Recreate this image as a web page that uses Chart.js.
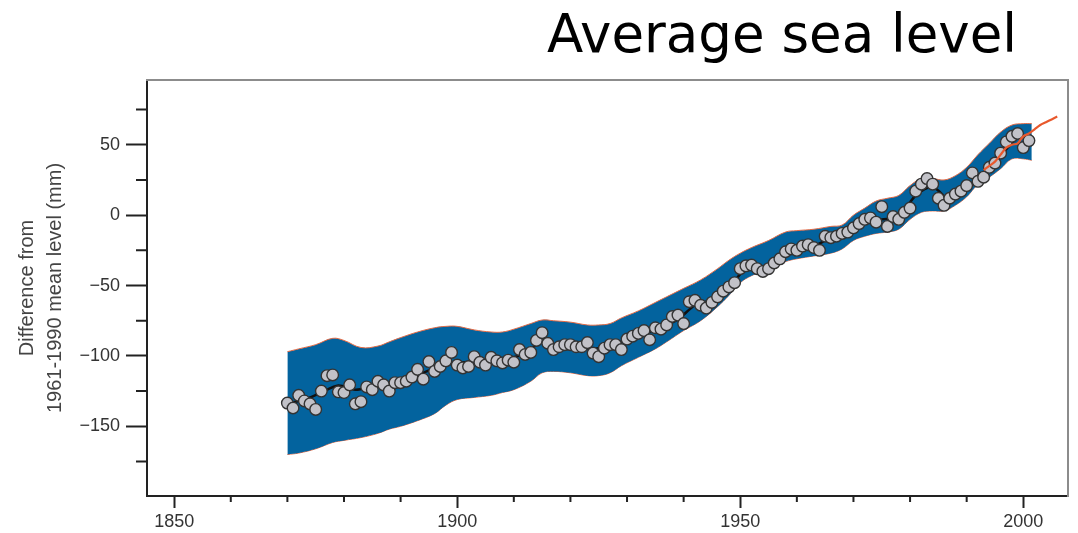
<!DOCTYPE html>
<html>
<head>
<meta charset="utf-8">
<title>Average sea level</title>
<script src="https://cdn.jsdelivr.net/npm/chart.js@4.4.0/dist/chart.umd.min.js"></script>
<style>
  html, body { margin: 0; padding: 0; background: #fff; }
</style>
</head>
<body>
<canvas id="chart" width="1078" height="533"></canvas>
<script>
// annual tide gauge values (mm, relative to 1961-1990 mean)
const years = [
  1870, 1871, 1872, 1873, 1874, 1875, 1876, 1877, 1878, 1879,
  1880, 1881, 1882, 1883, 1884, 1885, 1886, 1887, 1888, 1889,
  1890, 1891, 1892, 1893, 1894, 1895, 1896, 1897, 1898, 1899,
  1900, 1901, 1902, 1903, 1904, 1905, 1906, 1907, 1908, 1909,
  1910, 1911, 1912, 1913, 1914, 1915, 1916, 1917, 1918, 1919,
  1920, 1921, 1922, 1923, 1924, 1925, 1926, 1927, 1928, 1929,
  1930, 1931, 1932, 1933, 1934, 1935, 1936, 1937, 1938, 1939,
  1940, 1941, 1942, 1943, 1944, 1945, 1946, 1947, 1948, 1949,
  1950, 1951, 1952, 1953, 1954, 1955, 1956, 1957, 1958, 1959,
  1960, 1961, 1962, 1963, 1964, 1965, 1966, 1967, 1968, 1969,
  1970, 1971, 1972, 1973, 1974, 1975, 1976, 1977, 1978, 1979,
  1980, 1981, 1982, 1983, 1984, 1985, 1986, 1987, 1988, 1989,
  1990, 1991, 1992, 1993, 1994, 1995, 1996, 1997, 1998, 1999,
  2000, 2001
];
const seaLevel = [
  -133.5, -137, -128, -132, -134, -138, -125, -114, -113.5, -125.5,
  -126, -120.5, -134, -132.5, -122, -124, -118, -120.5, -125, -119,
  -119, -118, -115, -109.5, -116.5, -104, -111, -107.5, -103.5, -97.5,
  -106.5, -108.5, -107.5, -100.5, -104.5, -106.5, -101, -103.5, -105, -103,
  -104.5, -95.5, -99, -97.5, -89, -83.5, -91, -95.5, -93.5, -92,
  -92, -93.5, -93.5, -90.5, -98, -100.5, -94.5, -92, -92, -95.5,
  -88, -86, -84, -82, -88.5, -80, -81, -78, -72, -71,
  -77, -61.5, -60.5, -64, -66, -62, -58, -54, -51, -48,
  -38, -36, -35.5, -38, -40, -38, -34, -31, -26, -24,
  -25, -22, -21, -23, -25, -15, -16, -15, -13, -12,
  -9, -6, -3, -2, -5, 6, -8, -1, -3, 2,
  5, 17, 22, 26, 22, 12, 7, 12, 15, 17,
  21, 30, 24, 27, 34, 37, 44, 52, 56, 58,
  48, 53
];

// smoothed black curve
const trendYears = [1870, 1873, 1876, 1879, 1882, 1885, 1888, 1891, 1894, 1897, 1900, 1903, 1906, 1909, 1912, 1915, 1918, 1921, 1924, 1927, 1930, 1933, 1936, 1939, 1942, 1945, 1948, 1951, 1954, 1957, 1960, 1963, 1966, 1969, 1972, 1975, 1978, 1981, 1984, 1987, 1990, 1993, 1996, 1999, 2001];
const trendLevel = [-134, -131, -126, -121, -124, -122, -120, -116, -112, -107, -105, -104, -103, -102, -98, -90, -93, -93, -95, -93, -88, -84, -80, -74, -64, -60, -52, -38, -38, -31, -24, -22, -16, -12, -4, -3, -1, 14, 20, 11, 20, 28, 42, 55, 54];

// uncertainty band
const bandYears = [1870, 1872, 1875, 1878, 1880, 1883, 1886, 1888, 1890, 1893, 1896, 1898, 1900, 1903, 1906, 1908, 1910, 1913, 1915, 1917, 1920, 1923, 1925, 1927, 1929, 1932, 1935, 1937, 1940, 1943, 1946, 1948, 1950, 1952, 1955, 1958, 1960, 1963, 1966, 1968, 1970, 1972, 1974, 1976, 1978, 1980, 1982, 1984, 1986, 1988, 1990, 1992, 1994, 1996, 1998, 2000, 2001.5];
const bandUpper = [-97, -95, -92, -87.5, -89, -94, -93, -90, -87, -83, -80, -79, -79, -81.5, -83, -83, -81, -77, -74.5, -75, -76, -78, -78, -77, -73, -68, -62, -58, -52, -46, -38, -32, -27, -23, -18, -12, -11, -10, -8, -7, 0, 5, 10, 12, 14, 21, 26, 26, 25, 28, 34, 43, 51, 59, 64, 65, 65];
const bandLower = [-170, -169, -166, -161.5, -160, -158, -155, -152, -150, -146, -141, -135, -131, -129.5, -128, -126, -124, -118, -112, -111, -112, -114, -114, -112, -107, -101, -95, -90, -82, -75, -65, -57, -48, -43, -38, -33, -31, -29, -27, -24, -18, -15, -13, -12, -10, -3, 2, 3, 3, 7, 13, 22, 27, 33, 40, 40, 39];

// satellite altimetry (orange)
const satYears = [1993, 1994, 1995, 1996, 1997, 1998, 1999, 2000, 2001, 2002, 2003, 2004, 2005, 2006];
const satLevel = [32, 35, 38, 43, 48, 50, 51, 56, 58, 61, 64, 66, 68, 70];

const xMajorTicks = [1850, 1900, 1950, 2000];
const xMinorTicks = [1860, 1870, 1880, 1890, 1910, 1920, 1930, 1940, 1960, 1970, 1980, 1990];
const yMajorTicks = [50, 0, -50, -100, -150];
const yMinorTicks = [75, 25, -25, -75, -125, -175];

const chartTitle = 'Average sea level';
const yTitle = ['Difference from', '1961-1990 mean level (mm)'];

const pts = (xs, ys) => xs.map((x, i) => ({ x: x, y: ys[i] }));
const labelFont = { family: '"Liberation Sans", Arial, sans-serif', size: 18 };

// short ticks between the labelled ones + big heading
const extras = {
  id: 'extras',
  afterDraw(chart) {
    const { ctx, scales: { x, y } } = chart;
    ctx.save();
    ctx.strokeStyle = '#222';
    ctx.lineWidth = 2;
    ctx.beginPath();
    xMinorTicks.forEach(v => {
      const px = x.getPixelForValue(v);
      ctx.moveTo(px, x.top);
      ctx.lineTo(px, x.top + 6);
    });
    yMinorTicks.forEach(v => {
      const py = y.getPixelForValue(v);
      ctx.moveTo(y.right, py);
      ctx.lineTo(y.right - 11, py);
    });
    ctx.stroke();

    ctx.fillStyle = '#000';
    ctx.font = '53px "DejaVu Sans", Verdana, sans-serif';
    ctx.textAlign = 'right';
    ctx.textBaseline = 'alphabetic';
    ctx.fillText(chartTitle, chart.chartArea.right - 51, 52);
    ctx.restore();
  }
};

new Chart(document.getElementById('chart'), {
  type: 'line',
  data: {
    datasets: [
      {
        label: 'Satellite',
        data: pts(satYears, satLevel),
        borderColor: '#e8582c',
        borderWidth: 2.2,
        pointRadius: 0,
        tension: 0.3,
        fill: false
      },
      {
        label: 'Annual',
        data: pts(years, seaLevel),
        showLine: false,
        pointRadius: 5.8,
        pointBackgroundColor: '#c2c2c8',
        pointBorderColor: '#333',
        pointBorderWidth: 1.4
      },
      {
        label: 'Smoothed',
        data: pts(trendYears, trendLevel),
        borderColor: '#111',
        borderWidth: 2.5,
        pointRadius: 0,
        tension: 0.3,
        fill: false
      },
      {
        label: 'Upper',
        data: pts(bandYears, bandUpper),
        borderColor: '#e36a45',
        borderWidth: 1,
        backgroundColor: '#03639e',
        pointRadius: 0,
        tension: 0.4,
        fill: '+1'
      },
      {
        label: 'Lower',
        data: pts(bandYears, bandLower),
        borderColor: '#e36a45',
        borderWidth: 1,
        pointRadius: 0,
        tension: 0.4,
        fill: false
      }
    ]
  },
  options: {
    responsive: false,
    animation: false,
    layout: { padding: { top: 80, right: 10, left: 0, bottom: 0 } },
    plugins: {
      legend: { display: false },
      tooltip: { enabled: false }
    },
    scales: {
      x: {
        type: 'linear',
        position: 'bottom',
        min: 1845.2,
        max: 2007.9,
        afterFit: s => { s.height = 37; },
        afterBuildTicks: s => { s.ticks = xMajorTicks.map(v => ({ value: v })); },
        ticks: {
          color: '#333',
          font: labelFont,
          padding: 3,
          maxRotation: 0,
          callback: v => String(v)
        },
        grid: { drawOnChartArea: false, drawTicks: true, tickLength: 12, tickColor: '#222', tickWidth: 2 },
        border: { color: '#222', width: 2 }
      },
      y: {
        type: 'linear',
        position: 'left',
        min: -199.5,
        max: 96,
        afterFit: s => { s.width = 147; },
        afterBuildTicks: s => { s.ticks = yMajorTicks.map(v => ({ value: v })); },
        ticks: {
          color: '#333',
          font: labelFont,
          padding: 6,
          callback: v => (v < 0 ? '\u2212' + Math.abs(v) : String(v))
        },
        grid: { drawOnChartArea: false, drawTicks: true, tickLength: 21, tickColor: '#222', tickWidth: 2 },
        border: { color: '#222', width: 2 },
        title: {
          display: true,
          text: yTitle,
          color: '#444',
          font: { family: '"Liberation Sans", Arial, sans-serif', size: 20, lineHeight: 1.4 },
          padding: { top: 13, bottom: 0 }
        }
      },
      x2: {
        type: 'linear',
        position: 'top',
        display: true,
        min: 0,
        max: 1,
        afterFit: s => { s.height = 0; },
        ticks: { display: false },
        grid: { display: false, drawTicks: false },
        border: { color: '#8c8c8c', width: 2 }
      },
      y2: {
        type: 'linear',
        position: 'right',
        display: true,
        min: 0,
        max: 1,
        afterFit: s => { s.width = 0; },
        ticks: { display: false },
        grid: { display: false, drawTicks: false },
        border: { color: '#8c8c8c', width: 2 }
      }
    }
  },
  plugins: [extras]
});
</script>
</body>
</html>
